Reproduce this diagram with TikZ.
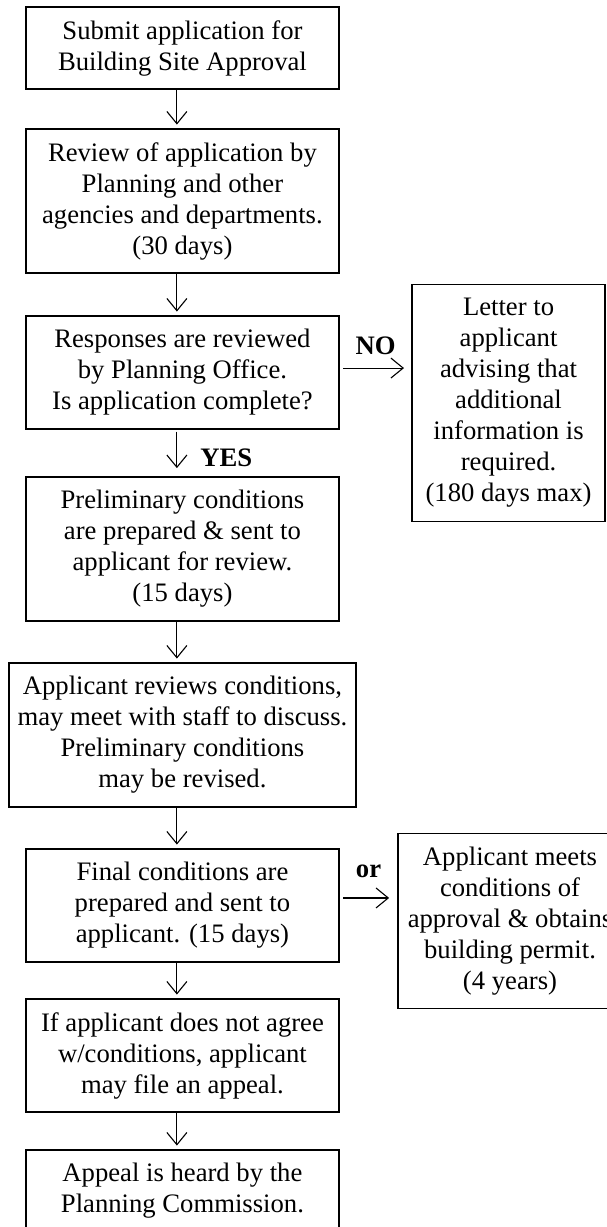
\documentclass[tikz,border=0pt]{standalone}
\usepackage{fontspec}
\setmainfont{Liberation Serif}
\usetikzlibrary{positioning,arrows.meta}

\begin{document}
\begin{tikzpicture}[
every node/.style = {font=\fontsize{12pt}{13.95pt}\selectfont},
  stepbox/.style = {draw, line width=0.8pt, align=center, minimum width=140.9pt,
    inner xsep=3pt, inner ysep=2pt, outer sep=0pt, minimum height=#1*13.95pt+9pt},
  widebox/.style = {stepbox=#1, minimum width=156.2pt},
  arr/.style = {-{Straight Barb[length=5.5pt,width=9pt]}, line width=0.5pt, shorten >=2pt},
  tag/.style = {font=\fontsize{12pt}{13.95pt}\selectfont\bfseries, inner sep=0pt}
]
\clip (0,0) rectangle (273.15pt,-552.15pt);
\node[stepbox=2] (submit) at (82.1pt,-21.6pt) {Submit application for\\Building Site Approval};
\node[stepbox=4, below=18pt of submit] (review) {Review of application by\\Planning and other\\agencies and departments.\\(30 days)};
\node[stepbox=3, below=19.35pt of review] (responses) {Responses are reviewed\\by Planning Office.\\Is application complete?};
\node[stepbox=4, below=21.6pt of responses] (prelim) {Preliminary conditions\\are prepared \& sent to\\applicant for review.\\(15 days)};
\node[widebox=4, below=18.9pt of prelim] (meet) {Applicant reviews conditions,\\may meet with staff to discuss.\\Preliminary conditions\\may be revised.};
\node[stepbox=3, below=18.9pt of meet] (final) {Final conditions are\\prepared and sent to\\applicant. (15 days)};
\node[stepbox=3, below=16.65pt of final] (appealfile) {If applicant does not agree\\w/conditions, applicant\\may file an appeal.};
\node[stepbox=2, below=17.1pt of appealfile] (hearing) {Appeal is heard by the\\Planning Commission.};
\node[stepbox=7, minimum width=86.9pt, right=32.85pt of responses, yshift=-13.7pt] (letter) {Letter to\\applicant\\advising that\\additional\\information is\\required.\\(180 days max)};
\node[stepbox=5, minimum width=100.8pt, right=26.55pt of final, yshift=-7pt] (permit) {Applicant meets\\conditions of\\approval \& obtains\\building permit.\\(4 years)};

\draw[arr] ([xshift=-2.5pt]submit.south) -- ([xshift=-2.5pt]review.north);
\draw[arr] ([xshift=-2.5pt]review.south) -- ([xshift=-2.5pt]responses.north);
\draw[arr, shorten <=1.2pt, shorten >=4pt] ([xshift=-2.5pt]responses.south) -- ([xshift=-2.5pt]prelim.north)
    node[tag, midway, right=10.35pt, yshift=-2.25pt] {YES};
\draw[arr] ([xshift=-2.5pt]prelim.south) -- ([xshift=-2.5pt]meet.north);
\draw[arr] ([xshift=-2.5pt]meet.south) -- ([xshift=-2.5pt]final.north);
\draw[arr] ([xshift=-2.5pt]final.south) -- ([xshift=-2.5pt]appealfile.north);
\draw[arr] ([xshift=-2.5pt]appealfile.south) -- ([xshift=-2.5pt]hearing.north);
\draw[arr, shorten <=1.8pt, shorten >=3.6pt] ([yshift=2pt]responses.east) -- ([yshift=2pt]responses.east -| letter.west)
    node[tag, midway, above=5.85pt] {NO};
\draw[arr, shorten <=1.8pt, shorten >=4pt] ([yshift=3.4pt]final.east) -- ([yshift=3.4pt]final.east -| permit.west)
    node[tag, midway, above=9pt] {or};
\end{tikzpicture}
\end{document}
